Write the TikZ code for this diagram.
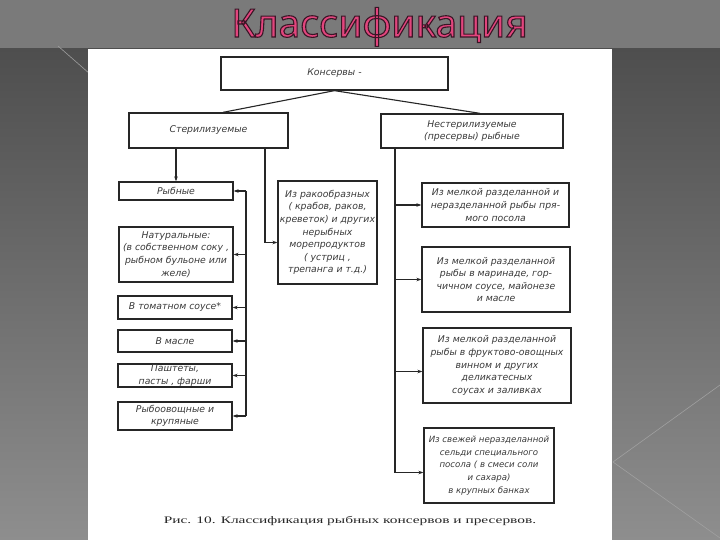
\documentclass[tikz,border=0pt]{standalone}
\usepackage{fontspec}
\usetikzlibrary{arrows.meta,calc}
\newfontfamily\handfont{DejaVu Sans}
\newfontfamily\titlefont{Noto Sans}
\newfontfamily\capfont{Liberation Serif}
\definecolor{bandgray}{HTML}{7A7A7A}
\definecolor{darktop}{HTML}{4E4E4E}
\definecolor{lightbot}{HTML}{8E8E8E}
\definecolor{inkc}{HTML}{262626}
\definecolor{textc}{HTML}{3A3A3A}
\definecolor{titlepink}{HTML}{E2457D}
\definecolor{decoline}{HTML}{A0A0A0}
\tikzset{
  box/.style={draw=inkc, line width=1.3pt, fill=white, inner sep=0pt, align=center,
    text=textc, font=\handfont\itshape\fontsize{9.3}{12.6}\selectfont},
  conn/.style={draw=inkc, line width=1.1pt},
  arr/.style={conn, -{Stealth[length=5pt,width=3.6pt]}},
}
\newcommand{\titletext}{Классификация}
\newcommand{\outlineon}{\special{pdf:literal direct 2 Tr 1.1 w 0.227 0.086 0.149 RG}}
\newcommand{\outlineoff}{\special{pdf:literal direct 0 Tr}}
\begin{document}
\begin{tikzpicture}[x=1pt,y=-1pt]
\useasboundingbox (0,0) rectangle (720,540);
% background
\shade[top color=darktop, bottom color=lightbot] (0,48) rectangle (720,540);
\fill[bandgray] (0,0) rectangle (720,48);
\draw[decoline, line width=0.6pt] (58,46) -- (90,74);
\draw[decoline, line width=0.6pt] (613,462) -- (720,385);
\draw[decoline, line width=0.6pt] (613,462) -- (720,538);
% page
\fill[white] (88,49) rectangle (612,540);
% title
\node[anchor=base, text=titlepink, inner sep=0pt, font=\titlefont\fontsize{39}{39}\selectfont] (title) at (379.5,37) {\outlineon\titletext\outlineoff};
% nodes
\node[box, minimum width=227pt, minimum height=33pt] (kons) at (334.5,73.5) {Консервы -};
\node[box, minimum width=159pt, minimum height=35pt] (ster) at (208.5,130.5) {Стерилизуемые};
\node[box, minimum width=182pt, minimum height=34pt] (nester) at (472,131) {Нестерилизуемые\\(пресервы) рыбные};
\node[box, minimum width=114pt, minimum height=18pt] (ryb) at (176,191) {Рыбные};
\node[box, minimum width=114pt, minimum height=55pt] (nat) at (176,254.5) {Натуральные:\\(в собственном соку ,\\рыбном бульоне или\\желе)};
\node[box, minimum width=114pt, minimum height=23pt] (tom) at (175,307.5) {В томатном соусе*};
\node[box, minimum width=114pt, minimum height=22pt] (masl) at (175,341) {В масле};
\node[box, minimum width=114pt, minimum height=23pt] (pasht) at (175,375.5) {Паштеты,\\пасты , фарши};
\node[box, minimum width=114pt, minimum height=28pt] (rybov) at (175,416) {Рыбоовощные и\\крупяные};
\node[box, minimum width=99pt, minimum height=103pt] (rak) at (327.5,232.5) {Из ракообразных\\( крабов, раков,\\креветок) и других\\нерыбных\\морепродуктов\\( устриц ,\\трепанга и т.д.)};
\node[box, minimum width=147pt, minimum height=44pt] (r1) at (495.5,205) {Из мелкой разделанной и\\неразделанной рыбы пря-\\мого посола};
\node[box, minimum width=148pt, minimum height=65pt] (r2) at (496,279.5) {Из мелкой разделанной\\рыбы в маринаде, гор-\\чичном соусе, майонезе\\и масле};
\node[box, minimum width=148pt, minimum height=75pt] (r3) at (497,365.5) {Из мелкой разделанной\\рыбы в фруктово-овощных\\винном и других\\деликатесных\\соусах и заливках};
\node[box, minimum width=130pt, minimum height=75pt, font=\handfont\itshape\fontsize{8.6}{12.6}\selectfont] (r4) at (489,465.5) {Из свежей неразделанной\\сельди специального\\посола ( в смеси соли\\и сахара)\\в крупных банках};
\node[anchor=base, inner sep=0pt, font=\capfont\fontsize{10}{12}\selectfont, text=inkc] (cap) at (350,523) {\scalebox{1.54}[1]{Рис. 10. Классификация рыбных консервов и пресервов.}};
% connectors
\draw[conn] (kons.south) -- ($(ster.north)+(14.5,0)$);
\draw[conn] (kons.south) -- ($(nester.north)+(8,0)$);
\draw[arr] (ster.south -| ryb.north) -- (ryb.north);
\draw[arr] ($(ster.south)+(56.5,0)$) |- ($(rak.west)+(0,10)$);
\coordinate (lb) at (246,0);
\draw[conn] (lb |- ryb.east) -- (lb |- rybov.east);
\foreach \n in {ryb,nat,tom,masl,pasht,rybov}
  \draw[arr] (lb |- \n.east) -- (\n.east);
\coordinate (rb) at (395,0);
\draw[arr] (nester.south -| rb) |- ($(r4.west)+(0,7)$);
\draw[arr] (rb |- r1.west) -- (r1.west);
\draw[arr] (rb |- r2.west) -- (r2.west);
\draw[arr] ($(rb |- r3.west)+(0,6)$) -- ($(r3.west)+(0,6)$);
\end{tikzpicture}
\end{document}
